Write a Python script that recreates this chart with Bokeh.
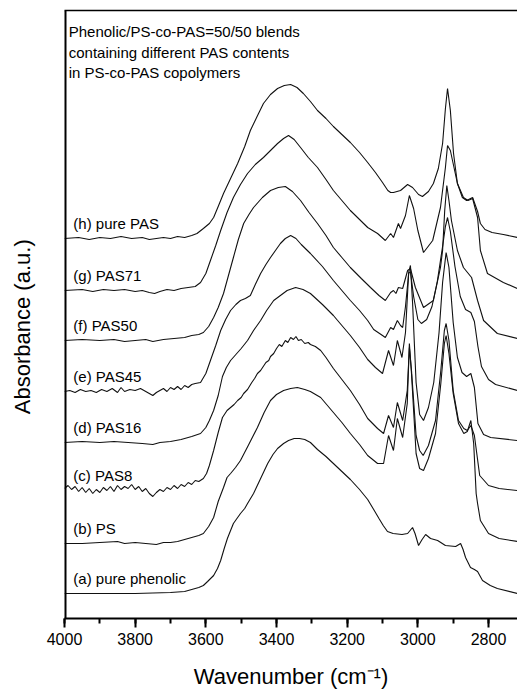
from bokeh.plotting import figure
from bokeh.models import Range1d, LinearAxis, SingleIntervalTicker, FixedTicker
from bokeh.core.properties import value
from bokeh.embed import file_html
from bokeh.resources import INLINE

# ---- data: (wavenumber cm-1, absorbance above own baseline, a.u.) ----
pts_a = [(4000, 0), (3900, 0), (3800, 0), (3700, 1), (3660, 2), (3640, 4), (3620, 6), (3607, 8),
         (3595, 12), (3578, 18), (3567, 25), (3558, 33), (3548, 45), (3539, 55), (3530, 63), (3522, 70),
         (3510, 76), (3502, 80), (3490, 85), (3482, 90), (3465, 100), (3445, 115), (3425, 130),
         (3410, 139), (3397, 145), (3380, 150), (3366, 153), (3350, 155), (3335, 155), (3320, 154),
         (3304, 151), (3284, 144), (3260, 137), (3239, 130), (3215, 122), (3191, 114), (3165, 104),
         (3142, 94), (3125, 84), (3110, 75), (3098, 68), (3086, 62), (3070, 60), (3045, 59),
         (3029, 60), (3015, 66), (3008, 60), (2998, 48), (2988, 54), (2978, 59), (2964, 55),
         (2944, 53), (2922, 48), (2893, 47), (2879, 50), (2872, 44), (2865, 36), (2851, 26),
         (2840, 24), (2831, 22), (2817, 13), (2795, 8), (2775, 5), (2718, 0)]

pts_b = [(4000, 0), (3950, 0), (3900, 1), (3850, 2), (3830, 0), (3800, 1), (3770, 0), (3740, -1),
         (3720, 1), (3700, 1), (3680, 2), (3660, 4), (3640, 6), (3620, 8), (3607, 10), (3592, 17),
         (3578, 26), (3565, 42), (3550, 56), (3540, 66), (3530, 70), (3516, 76), (3502, 83),
         (3480, 98), (3454, 116), (3435, 131), (3417, 143), (3400, 149), (3380, 153), (3360, 155),
         (3341, 156), (3320, 154), (3304, 152), (3275, 146), (3239, 131), (3215, 121), (3191, 110),
         (3165, 99), (3142, 88), (3114, 80), (3097, 80), (3083, 108), (3069, 93), (3058, 125),
         (3043, 106), (3030, 140), (3024, 200), (3018, 170), (3005, 90), (2995, 75), (2984, 73),
         (2970, 85), (2950, 110), (2935, 160), (2925, 200), (2920, 208), (2912, 190), (2900, 150),
         (2885, 120), (2870, 110), (2860, 112), (2850, 123), (2842, 100), (2835, 50), (2831, 40),
         (2823, 23), (2800, 10), (2770, 5), (2718, 2)]

pts_c = [(4000, 2), (3990, 5), (3980, 1), (3970, 4), (3960, -1), (3950, 3), (3940, -2), (3930, 2),
         (3920, -3), (3910, 1), (3900, -2), (3890, 3), (3880, 0), (3870, 4), (3860, -1), (3850, 5),
         (3840, 1), (3830, 4), (3820, 2), (3810, 6), (3800, 1), (3790, 4), (3780, -1), (3770, 2),
         (3760, -3), (3750, -6), (3740, -2), (3730, 1), (3720, -1), (3710, 3), (3700, 1), (3690, 5),
         (3680, 2), (3670, 6), (3660, 4), (3650, 8), (3640, 6), (3630, 10), (3620, 9), (3607, 12),
         (3598, 17), (3590, 25), (3578, 40), (3565, 58), (3553, 73), (3540, 80), (3530, 83),
         (3520, 86), (3510, 90), (3500, 93), (3493, 97), (3482, 101), (3470, 108), (3462, 112),
         (3454, 117), (3445, 120), (3430, 128), (3422, 130), (3417, 134), (3408, 137), (3400, 142),
         (3392, 146), (3385, 144), (3375, 150), (3368, 148), (3360, 153), (3352, 151), (3345, 154),
         (3338, 150), (3330, 151), (3320, 147), (3310, 148), (3304, 146), (3290, 144), (3275, 140),
         (3260, 133), (3239, 122), (3215, 111), (3191, 100), (3165, 86), (3142, 72), (3114, 62),
         (3097, 57), (3083, 75), (3069, 63), (3058, 88), (3043, 70), (3030, 100), (3024, 143),
         (3018, 120), (3005, 55), (2995, 40), (2985, 35), (2970, 45), (2950, 70), (2935, 120),
         (2925, 160), (2920, 167), (2912, 150), (2900, 100), (2885, 70), (2870, 62), (2860, 60),
         (2850, 65), (2840, 55), (2825, 15), (2800, 5), (2770, 2), (2718, 0)]

pts_d = [(4000, 0), (3950, 1), (3900, 0), (3860, 1), (3820, 0), (3780, -1), (3750, -2), (3730, 0),
         (3700, 1), (3670, 3), (3640, 6), (3615, 9), (3600, 15), (3590, 22), (3578, 32), (3565, 47),
         (3553, 66), (3542, 75), (3530, 82), (3515, 88), (3500, 94), (3482, 102), (3465, 112),
         (3445, 122), (3428, 132), (3408, 142), (3389, 147), (3370, 152), (3346, 155), (3325, 153),
         (3304, 149), (3270, 138), (3239, 127), (3215, 117), (3191, 107), (3165, 95), (3142, 83),
         (3120, 75), (3100, 69), (3083, 92), (3069, 77), (3058, 102), (3045, 85), (3035, 110),
         (3026, 170), (3021, 177), (3015, 140), (3005, 60), (2995, 28), (2984, 22), (2970, 35),
         (2955, 60), (2940, 110), (2930, 160), (2920, 190), (2912, 175), (2900, 120), (2888, 85),
         (2875, 70), (2862, 66), (2850, 69), (2840, 55), (2830, 19), (2814, 8), (2794, 5), (2718, 2)]

pts_e = [(4000, 0), (3985, 1), (3970, -1), (3955, 2), (3940, 0), (3925, 1), (3910, -1), (3895, 2),
         (3880, 0), (3865, 3), (3850, -1), (3840, 4), (3830, 0), (3815, 2), (3800, 1), (3785, 3),
         (3770, 0), (3760, -2), (3750, -4), (3740, -1), (3730, 1), (3720, 3), (3710, 0), (3700, 4),
         (3690, 2), (3680, 5), (3670, 2), (3660, 6), (3650, 4), (3640, 7), (3630, 8), (3615, 9),
         (3600, 18), (3587, 31), (3572, 46), (3558, 61), (3544, 72), (3530, 81), (3515, 87),
         (3502, 91), (3488, 93), (3474, 96), (3460, 107), (3445, 118), (3430, 127), (3417, 134),
         (3403, 141), (3389, 148), (3375, 153), (3360, 156), (3345, 153), (3330, 147), (3304, 138),
         (3270, 125), (3239, 111), (3215, 101), (3191, 91), (3165, 81), (3142, 71), (3125, 62),
         (3100, 56), (3092, 54), (3083, 60), (3077, 64), (3069, 62), (3058, 71), (3049, 66),
         (3043, 64), (3035, 85), (3026, 118), (3021, 120), (3012, 95), (3000, 72), (2990, 68),
         (2975, 72), (2960, 85), (2945, 110), (2930, 145), (2922, 165), (2916, 174), (2908, 160),
         (2895, 125), (2880, 95), (2865, 82), (2850, 79), (2840, 70), (2830, 45), (2820, 25),
         (2800, 12), (2780, 7), (2718, 1)]

pts_f = [(4000, 0), (3950, 1), (3900, 0), (3860, 1), (3830, -1), (3800, 0), (3770, 1), (3750, -1),
         (3720, 1), (3690, 2), (3660, 3), (3640, 5), (3620, 6), (3607, 8), (3592, 14), (3578, 23),
         (3565, 33), (3550, 47), (3536, 65), (3522, 83), (3508, 101), (3493, 117), (3478, 126),
         (3465, 133), (3440, 143), (3417, 150), (3395, 153), (3375, 154), (3355, 149), (3332, 140),
         (3308, 128), (3284, 117), (3260, 105), (3239, 93), (3215, 83), (3191, 73), (3160, 62),
         (3134, 53), (3110, 45), (3092, 40), (3077, 48), (3069, 50), (3062, 47), (3055, 53),
         (3043, 52), (3029, 70), (3021, 72), (3007, 53), (2984, 33), (2956, 40), (2936, 73),
         (2930, 90), (2924, 130), (2918, 155), (2912, 140), (2905, 120), (2888, 90), (2871, 73),
         (2848, 63), (2831, 40), (2814, 20), (2775, 7), (2718, 2)]

pts_g = [(4000, 0), (3950, 1), (3920, -1), (3890, 1), (3860, 0), (3830, 1), (3800, -1), (3780, 0),
         (3760, -2), (3745, -3), (3730, -1), (3710, 1), (3690, 0), (3670, 2), (3650, 3), (3630, 4),
         (3615, 8), (3600, 17), (3587, 30), (3572, 45), (3558, 60), (3540, 78), (3522, 93),
         (3502, 106), (3482, 117), (3460, 126), (3437, 133), (3417, 140), (3397, 147), (3380, 152),
         (3366, 155), (3350, 151), (3332, 143), (3310, 133), (3284, 123), (3260, 111), (3239, 100),
         (3215, 90), (3191, 80), (3165, 71), (3142, 63), (3114, 57), (3092, 50), (3077, 57),
         (3069, 53), (3055, 67), (3049, 62), (3035, 75), (3024, 95), (3012, 82), (3000, 60),
         (2984, 38), (2958, 50), (2936, 83), (2922, 123), (2916, 145), (2908, 140), (2888, 107),
         (2871, 93), (2858, 90), (2845, 92), (2831, 73), (2823, 40), (2803, 17), (2758, 8), (2718, 2)]

pts_h = [(4000, 0), (3960, 1), (3930, -1), (3900, 1), (3870, 0), (3840, 2), (3810, 0), (3780, 1),
         (3760, -1), (3740, 0), (3720, 1), (3700, 0), (3680, 2), (3660, 1), (3640, 3), (3625, 5),
         (3607, 10), (3590, 15), (3578, 21), (3565, 32), (3550, 45), (3530, 60), (3510, 75),
         (3490, 92), (3474, 108), (3455, 122), (3437, 135), (3417, 144), (3397, 150), (3378, 153),
         (3360, 154), (3342, 151), (3324, 145), (3304, 137), (3284, 128), (3260, 120), (3239, 112),
         (3215, 104), (3191, 96), (3165, 86), (3142, 76), (3120, 66), (3100, 56), (3085, 48),
         (3077, 46), (3069, 46), (3049, 48), (3029, 54), (3015, 51), (2998, 44), (2987, 42),
         (2970, 47), (2956, 55), (2942, 70), (2930, 95), (2922, 130), (2916, 150), (2908, 128),
         (2899, 85), (2888, 55), (2874, 41), (2862, 38), (2845, 41), (2831, 27), (2823, 15),
         (2810, 9), (2790, 6), (2758, 4), (2718, 1)]

series = [pts_a, pts_b, pts_c, pts_d, pts_e, pts_f, pts_g, pts_h]
labels = ["(a) pure phenolic", "(b) PS", "(c) PAS8", "(d) PAS16",
          "(e) PAS45", "(f) PAS50", "(g) PAS71", "(h) pure PAS"]
offsets = [0, 50, 103, 151, 202, 253, 303, 355]
note_lines = ["Phenolic/PS-co-PAS=50/50 blends",
              "containing different PAS contents",
              "in PS-co-PAS copolymers"]
x_ticks_interval = 200

FONT = "Liberation Sans"
X_START, X_END = 4000, 2718
Y_START, Y_END = -25, 583

p = figure(width=517, height=693, x_range=Range1d(X_START, X_END), y_range=Range1d(Y_START, Y_END),
           output_backend="svg", toolbar_location=None,
           x_axis_location=None, y_axis_location=None,
           min_border_left=64, min_border_right=0, min_border_top=10, min_border_bottom=75)
p.outline_line_color = None
p.background_fill_color = "white"
p.border_fill_color = "white"

for pts, off in zip(series, offsets):
    xs = [w for w, _ in pts]
    ys = [a + off for _, a in pts]
    p.line(xs, ys, line_color="#111111", line_width=1.1)

# left frame line (half of it falls inside the frame)
p.segment(x0=[X_START], y0=[Y_START], x1=[X_START], y1=[Y_END], line_color="black", line_width=4)

# curve labels
p.text(x=[3975] * len(labels), y=[o + 15.5 for o in offsets], text=labels,
       text_font=value(FONT), text_font_size="15px", text_color="black",
       text_baseline="middle", text_align="left")

# note in top-left corner
p.text(x=[3988] * 3, y=[562, 541, 521], text=note_lines,
       text_font=value(FONT), text_font_size="15px", text_color="black",
       text_baseline="middle", text_align="left")

# bottom axis
xa = LinearAxis(ticker=SingleIntervalTicker(interval=x_ticks_interval, num_minor_ticks=2),
                axis_label="Wavenumber (cm\u207b\u00b9)")
xa.axis_line_width = 2
xa.axis_line_color = "black"
xa.major_tick_in = 0
xa.major_tick_out = 9
xa.minor_tick_in = 0
xa.minor_tick_out = 5
xa.major_tick_line_width = 2
xa.minor_tick_line_width = 2
xa.major_label_standoff = 5
xa.major_label_text_font = FONT
xa.major_label_text_font_size = "16px"
xa.major_label_text_color = "black"
xa.axis_label_text_font = FONT
xa.axis_label_text_font_size = "22px"
xa.axis_label_text_font_style = "normal"
xa.axis_label_text_color = "black"
xa.axis_label_standoff = 16
p.add_layout(xa, "below")

# left axis: only carries the title (line drawn by the segment above);
# trailing no-break spaces nudge the visible title a little lower, as in the original
ya = LinearAxis(ticker=FixedTicker(ticks=[]), axis_label="Absorbance (a.u.)" + "\u00a0" * 4)
ya.axis_line_color = None
ya.major_tick_line_color = None
ya.minor_tick_line_color = None
ya.major_label_text_font_size = "0px"
ya.axis_label_text_font = FONT
ya.axis_label_text_font_size = "22px"
ya.axis_label_text_font_style = "normal"
ya.axis_label_text_color = "black"
ya.axis_label_standoff = 30
p.add_layout(ya, "left")

# top frame line
ta = LinearAxis(ticker=FixedTicker(ticks=[]))
ta.axis_line_width = 1.5
ta.axis_line_color = "black"
ta.major_tick_line_color = None
ta.minor_tick_line_color = None
ta.major_label_text_font_size = "0px"
p.add_layout(ta, "above")

p.grid.grid_line_color = None

open("out.html", "w").write(file_html(p, INLINE))
